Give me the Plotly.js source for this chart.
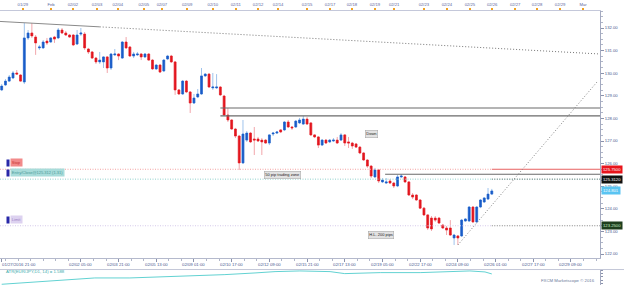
<!DOCTYPE html>
<html><head><meta charset="utf-8">
<script src="https://cdn.plot.ly/plotly-3.0.1.min.js"></script>
<style>html,body{margin:0;padding:0;background:#fff}#chart{width:625px;height:285px}</style>
</head><body><div id="chart"></div>
<script>
// EUR/JPY H4 candles (index = candle number)
const open = [
129.26,129.48,129.65,129.79,130.01,129.92,129.61,131.56,131.78,131.60,
131.12,131.12,131.42,131.38,131.60,131.56,131.91,131.78,131.69,131.69,
131.29,131.73,131.73,131.07,130.94,130.67,130.50,130.50,130.72,130.23,
130.81,130.85,130.67,131.38,131.16,130.76,130.81,130.85,130.72,130.85,
130.58,130.19,130.36,130.10,130.63,130.76,130.50,129.26,129.08,129.65,
129.17,128.68,128.95,129.08,129.88,129.96,129.35,129.35,129.39,128.99,
128.15,127.93,127.53,127.22,126.03,127.04,127.35,127.09,127.09,127.04,
127.04,126.91,127.31,127.35,127.49,127.49,127.84,127.62,127.62,127.80,
127.75,127.97,127.80,127.27,127.18,126.82,127.04,126.96,127.00,127.04,
127.04,127.27,126.96,126.91,126.87,126.73,126.47,126.16,125.89,125.41,
125.72,125.19,125.14,125.23,125.14,125.01,125.41,125.41,125.19,124.61,
124.61,124.39,124.03,123.73,123.59,123.59,123.59,123.28,123.15,123.15,
122.71,122.80,122.80,123.46,123.46,124.08,123.42,124.08,124.30,124.43,
124.65];
const close = [
129.43,129.65,129.83,130.01,129.96,129.65,131.56,131.78,131.65,131.34,
131.16,131.38,131.34,131.56,131.51,131.91,131.78,131.69,131.60,131.25,
131.69,131.78,131.12,130.94,130.67,130.50,130.58,130.72,130.23,130.85,
130.85,130.76,131.38,131.12,130.76,130.85,130.85,130.72,130.85,130.58,
130.19,130.36,130.05,130.58,130.76,130.50,129.26,129.08,129.65,129.17,
128.68,128.90,129.08,129.88,129.96,129.39,129.39,129.39,129.04,128.15,
127.93,127.53,127.22,126.03,127.31,127.35,126.96,127.04,127.00,126.96,
126.91,127.27,127.35,127.40,127.40,127.84,127.62,127.58,127.88,127.93,
127.97,127.75,127.27,127.18,126.82,127.04,126.91,127.04,127.04,126.91,
127.27,126.91,126.91,126.78,126.73,126.47,126.16,125.89,125.45,125.72,
125.23,125.27,125.19,125.14,125.01,125.41,125.45,125.19,124.61,124.52,
124.39,124.03,123.73,123.15,123.11,123.50,123.37,123.15,123.06,122.84,
122.84,122.71,123.50,123.55,124.08,123.42,124.08,124.39,124.48,124.65,
124.79];
const high = [
129.52,129.74,129.92,130.10,130.14,129.96,132.22,131.91,132.22,131.69,
131.25,131.47,131.56,131.60,131.65,132.00,132.00,131.87,131.73,131.73,
131.91,132.00,131.82,131.12,130.98,130.72,130.94,130.76,130.76,130.89,
131.07,130.89,131.42,131.60,131.20,130.94,130.94,130.89,130.89,130.89,
130.63,130.41,130.41,130.63,130.81,130.81,130.54,129.30,129.70,129.70,
129.21,129.08,129.30,130.23,130.01,130.01,130.01,129.96,129.43,129.04,
128.46,127.97,127.58,127.27,127.93,127.44,127.40,127.62,127.18,127.13,
127.09,127.31,127.40,127.44,127.53,127.88,127.93,127.66,127.93,128.02,
128.11,128.06,127.84,127.31,127.22,127.09,127.09,127.09,127.13,127.18,
127.35,127.31,127.18,126.96,126.91,126.78,126.51,126.20,125.94,125.81,
125.76,125.36,125.36,125.32,125.19,125.50,125.54,125.45,125.23,124.70,
124.65,124.43,124.08,123.77,123.68,123.68,123.64,123.33,123.24,123.50,
122.89,122.84,123.55,123.59,124.12,124.12,124.12,124.43,124.52,124.92,
124.88];
const low = [
129.21,129.43,129.61,129.74,129.92,129.61,129.52,131.47,131.56,130.81,
131.03,131.07,131.25,131.34,131.34,131.51,131.73,131.65,131.56,131.20,
131.25,131.65,131.03,130.85,130.63,130.41,130.41,130.23,130.01,130.14,
130.76,130.58,130.63,131.07,130.72,130.67,130.76,130.58,130.67,130.54,
130.14,130.14,130.01,130.05,130.58,130.45,129.04,129.04,129.04,129.12,
128.24,128.64,128.90,129.04,129.83,129.35,129.26,129.30,128.99,128.11,
127.84,127.49,127.13,125.72,125.98,126.96,126.91,126.38,126.96,126.38,
126.87,126.82,127.22,127.31,127.35,127.44,127.58,127.49,127.58,127.75,
127.71,127.71,127.22,127.13,126.69,126.78,126.87,126.91,126.96,126.87,
127.00,126.78,126.69,126.65,126.69,126.42,126.12,125.81,125.36,125.36,
125.14,125.14,125.10,125.10,124.92,124.96,125.36,125.14,124.57,124.43,
124.35,123.99,123.68,123.06,123.02,123.42,123.33,123.11,122.84,122.80,
122.40,122.40,122.75,123.42,123.42,123.37,123.37,124.03,124.26,124.39,
124.61];

// top date axis
const dayPos = [5.6,13.1,18.9,25.3,30.8,37.7,42.5,49.2,56,62.1,68,73.3,81,87.1,92.9,99,104.1,112,118.1,124.2,130.1,136.2,142,148.1,154.2];
const dayLabels = ['01/29','Feb','02/02','02/03','02/04','02/05','02/07','02/09','02/10','02/11','02/12','02/14','02/15','02/17','02/18','02/19','02/21','02/23','02/24','02/25','02/26','02/27','02/28','02/29','Mar'];
// bottom time axis
const timePos = [0,21,31,41,51,61,71,81,91,101,111,121,131,141,151];
const timeLabels = ['01/27/2016 21:00','02/02 05:00','02/03 21:00','02/05 13:00','02/09 01:00','02/10 17:00','02/12 09:00','02/15 21:00','02/17 13:00','02/19 05:00','02/22 17:00','02/24 09:00','02/26 01:00','02/27 17:00','02/29 09:00'];
// price axis
const priceTicks = [122,123,124,125,126,127,128,129,130,131,132];
// levels
const stopLevel = 125.75, entryLevel = 125.312, limitLevel = 123.25, lastPrice = 124.801;
const resistLevels = [128.46, 128.11];
const zoneLevel = 125.53;
const trendX = [-0.45, 158.7], trendY = [132.29, 130.85];
const supportX = [121, 157.9], supportY = [122.40, 129.61];
// ATR indicator
const atrX = [0,4.9,11.5,16.8,24.7,34,42,50,59.2,67.2,72.5,79.1,87.1,91,100.4,111,118.9,124.2,128.2,130];
const atrY = [1.28,1.32,1.38,1.42,1.47,1.47,1.50,1.53,1.57,1.62,1.66,1.68,1.66,1.60,1.63,1.63,1.66,1.68,1.65,1.59];

const X0 = -0.45, X1 = 158.7;
const idx = open.map((_, i) => i);
const bodyHi = open.map((o, i) => Math.max(o, close[i]));
const bodyLo = open.map((o, i) => Math.min(o, close[i]));
const lerp = (xs, ys, x) => ys[0] + (ys[1]-ys[0])*(x-xs[0])/(xs[1]-xs[0]);
const DOT = '1px,1.5px';

const traces = [];
function hline(y, x0, x1, color, dash, width, yaxis) {
  traces.push({type:'scatter', mode:'lines', x:[x0,x1], y:[y,y], line:{color, dash, width}, hoverinfo:'skip', showlegend:false, yaxis: yaxis||'y'});
}
// level lines
hline(stopLevel, X0, 130, '#f3a0a0', DOT, 1);
hline(stopLevel, 130, X1, '#e86060', 'solid', 1);
hline(entryLevel, X0, 130, '#8fd0cc', DOT, 1);
hline(entryLevel, 130, X1, '#2f5f5a', DOT, 1);
hline(limitLevel, X0, 130, '#d4c8ea', DOT, 1);
hline(limitLevel, 130, X1, '#808080', DOT, 1);
resistLevels.forEach(l => hline(l, 58, X1, '#6a6a6a', 'solid', 1.2));
hline(zoneLevel, 101.7, X1, '#6a6a6a', 'solid', 1.2);
// trend lines
const split = 26;
traces.push({type:'scatter', mode:'lines', x:[trendX[0], split], y:[trendY[0], lerp(trendX, trendY, split)], line:{color:'#8a8a8a', width:1}, hoverinfo:'skip', showlegend:false});
traces.push({type:'scatter', mode:'lines', x:[split, trendX[1]], y:[lerp(trendX, trendY, split), trendY[1]], line:{color:'#777', width:1, dash:'1px,2px'}, hoverinfo:'skip', showlegend:false});
traces.push({type:'scatter', mode:'lines', x:supportX, y:supportY, line:{color:'#808080', width:1, dash:'1px,2px'}, hoverinfo:'skip', showlegend:false});
// wicks (light)
traces.push({type:'candlestick', x:idx, open, high, low, close, whiskerwidth:0, hoverinfo:'skip', showlegend:false,
  increasing:{line:{color:'#9fc3ec', width:1}, fillcolor:'#9fc3ec'},
  decreasing:{line:{color:'#f2a6ab', width:1}, fillcolor:'#f2a6ab'}});
// bodies
traces.push({type:'candlestick', x:idx, open, high:bodyHi, low:bodyLo, close, whiskerwidth:0, hoverinfo:'skip', showlegend:false,
  increasing:{line:{color:'#1a5cc8', width:0.5}, fillcolor:'#1a5cc8'},
  decreasing:{line:{color:'#e3161e', width:0.5}, fillcolor:'#e3161e'}});
// ATR
traces.push({type:'scatter', mode:'lines', x:atrX, y:atrY, yaxis:'y2', line:{color:'#62d2d2', width:1}, hoverinfo:'skip', showlegend:false});
// top axis anchor
traces.push({type:'scatter', mode:'markers', x:[dayPos[0]], y:[130], xaxis:'x2', marker:{opacity:0}, hoverinfo:'skip', showlegend:false});

const F = 'Liberation Sans, Arial, sans-serif';
const annotations = [];
timeLabels.forEach((t, i) => annotations.push({xref:'x', yref:'paper', x: i === 0 ? X0 : timePos[i], y:0.0766, xanchor: i === 0 ? 'left' : 'center', yanchor:'middle', text:t, showarrow:false, font:{family:F, size:4.3, color:'#4a5890'}}));
function rightBox(y, text, bg, fg) {
  annotations.push({xref:'paper', yref:'y', x:1, y, xanchor:'left', yanchor:'middle', xshift:1, text, showarrow:false, bgcolor:bg, borderpad:1, font:{family:F, size:4.2, color:fg}});
}
rightBox(stopLevel, stopLevel.toFixed(4), '#e8141c', '#ffffff');
rightBox(entryLevel, entryLevel.toFixed(4), '#111111', '#ffffff');
rightBox(lastPrice, lastPrice.toFixed(3), '#5ac4f2', '#ffffff');
rightBox(limitLevel, limitLevel.toFixed(4), '#1e3e1e', '#c8f0c8');
function leftBox(y, text, bg, fg) {
  annotations.push({xref:'paper', yref:'y', x:6/600, y, xanchor:'left', yanchor:'bottom', yshift:2, text:' ', showarrow:false, bgcolor:'#2828a8', borderpad:0.5, font:{family:F, size:4.2, color:'#2828a8'}});
  annotations.push({xref:'paper', yref:'y', x:10/600, y, xanchor:'left', yanchor:'bottom', yshift:2, text, showarrow:false, bgcolor:bg, borderpad:0.8, font:{family:F, size:4, color:fg}});
}
leftBox(stopLevel, 'Stop', '#f28a8a', '#c83030');
leftBox(entryLevel, 'Entry/Close@125.312 (1.31)', '#a8dcda', '#4a9a98');
leftBox(limitLevel, 'Limit', '#ddd2f0', '#9a82c4');
function note(x, y, text) {
  annotations.push({xref:'x', yref:'y', x, y, text, showarrow:false, bgcolor:'#e2e2e2', bordercolor:'#a0a0a0', borderwidth:0.5, borderpad:0.8, font:{family:F, size:4, color:'#222'}});
}
note(98, 127.29, 'Down');
note(74.4, 125.50, '50 pip trading zone');
note(100.6, 122.84, 'H.L. 200 pips');
annotations.push({xref:'paper', yref:'paper', x:4/600, y:0.048, xanchor:'left', yanchor:'middle', text:'ATR(EUR/JPY,D1, 14) = 1.588', showarrow:false, font:{family:F, size:4.3, color:'#3aacac'}});
annotations.push({xref:'paper', yref:'paper', x:597/600, y:0.015, xanchor:'right', yanchor:'middle', text:'FXCM Marketscope © 2016', showarrow:false, font:{family:F, size:4.3, color:'#6a789a'}});

const layout = {
  width:625, height:285,
  margin:{l:0, r:25, t:11, b:0},
  paper_bgcolor:'#ffffff', plot_bgcolor:'#ffffff',
  showlegend:false, boxgap:0.3, hovermode:false, dragmode:false,
  xaxis:{range:[X0, X1], anchor:'y', rangeslider:{visible:false}, showgrid:false, zeroline:false,
    showline:true, linecolor:'#b4b9cc', linewidth:1, ticks:'outside', tickvals:timePos, ticklen:3, tickcolor:'#8a92ac',
    showticklabels:false, minor:{tickmode:'linear', tick0:1, dtick:10/3, ticks:'outside', ticklen:1.5, tickcolor:'#b0b6c8'}},
  xaxis2:{range:[X0, X1], overlaying:'x', anchor:'y', side:'top', showgrid:false, zeroline:false,
    showline:true, linecolor:'#c4c8da', ticks:'outside', tickvals:dayPos, ticktext:dayLabels, ticklen:2.5, tickwidth:2,
    tickcolor:'#f0a020', tickfont:{family:F, size:4.2, color:'#5a66a0'}},
  yaxis:{domain:[0.0985, 1], range:[121.823, 132.752], side:'right', anchor:'x', showgrid:false, zeroline:false,
    showline:true, linecolor:'#a4aac0', ticks:'outside', ticklen:3, tickcolor:'#8a92ac', tickvals:priceTicks,
    ticktext:priceTicks.map(v => v.toFixed(2)), tickfont:{family:F, size:4.2, color:'#4a5890'},
    minor:{tickmode:'linear', tick0:122, dtick:0.25, ticks:'outside', ticklen:1.5, tickcolor:'#b0b6c8'}},
  yaxis2:{domain:[0, 0.0547], range:[1.258, 1.708], side:'right', anchor:'x', showgrid:false, zeroline:false,
    showline:true, linecolor:'#a4aac0', ticks:'outside', ticklen:2, tickcolor:'#8a92ac', showticklabels:false, dtick:0.1},
  shapes:[{type:'line', xref:'paper', yref:'paper', x0:0, x1:1.04, y0:0.0565, y1:0.0565, line:{color:'#c4c8d8', width:1}}],
  annotations
};
Plotly.newPlot('chart', traces, layout, {staticPlot:true, displayModeBar:false});
</script></body></html>
